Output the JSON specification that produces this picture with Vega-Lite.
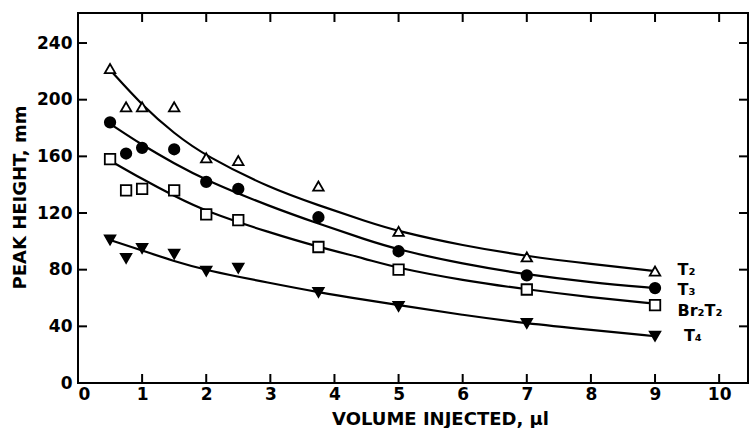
{
  "$schema": "https://vega.github.io/schema/vega-lite/v6.json",
  "autosize": "none",
  "width": 670,
  "height": 370,
  "padding": {"left": 78, "top": 13, "right": 3, "bottom": 45},
  "background": "white",
  "config": {
    "view": {"stroke": "black", "strokeWidth": 2},
    "font": "DejaVu Sans",
    "axis": {"domain": false, "grid": false, "ticks": false, "labelColor": "black", "titleColor": "black", "labelFont": "DejaVu Sans", "titleFont": "DejaVu Sans", "labelFontSize": 17, "labelFontWeight": "bold", "titleFontSize": 18, "titleFontWeight": "bold"}
  },
  "datasets": {
    "pts": [
      {"s": "T2", "x": 0.5, "y": 222}, {"s": "T2", "x": 0.75, "y": 195}, {"s": "T2", "x": 1, "y": 195}, {"s": "T2", "x": 1.5, "y": 195},
      {"s": "T2", "x": 2, "y": 159}, {"s": "T2", "x": 2.5, "y": 157}, {"s": "T2", "x": 3.75, "y": 139}, {"s": "T2", "x": 5, "y": 107},
      {"s": "T2", "x": 7, "y": 89}, {"s": "T2", "x": 9, "y": 79},
      {"s": "T3", "x": 0.5, "y": 184}, {"s": "T3", "x": 0.75, "y": 162}, {"s": "T3", "x": 1, "y": 166}, {"s": "T3", "x": 1.5, "y": 165},
      {"s": "T3", "x": 2, "y": 142}, {"s": "T3", "x": 2.5, "y": 137}, {"s": "T3", "x": 3.75, "y": 117}, {"s": "T3", "x": 5, "y": 93},
      {"s": "T3", "x": 7, "y": 76}, {"s": "T3", "x": 9, "y": 67},
      {"s": "Br2T2", "x": 0.5, "y": 158}, {"s": "Br2T2", "x": 0.75, "y": 136}, {"s": "Br2T2", "x": 1, "y": 137}, {"s": "Br2T2", "x": 1.5, "y": 136},
      {"s": "Br2T2", "x": 2, "y": 119}, {"s": "Br2T2", "x": 2.5, "y": 115}, {"s": "Br2T2", "x": 3.75, "y": 96}, {"s": "Br2T2", "x": 5, "y": 80},
      {"s": "Br2T2", "x": 7, "y": 66}, {"s": "Br2T2", "x": 9, "y": 55},
      {"s": "T4", "x": 0.5, "y": 101}, {"s": "T4", "x": 0.75, "y": 88}, {"s": "T4", "x": 1, "y": 95}, {"s": "T4", "x": 1.5, "y": 91},
      {"s": "T4", "x": 2, "y": 79}, {"s": "T4", "x": 2.5, "y": 81}, {"s": "T4", "x": 3.75, "y": 64}, {"s": "T4", "x": 5, "y": 54},
      {"s": "T4", "x": 7, "y": 42}, {"s": "T4", "x": 9, "y": 33}
    ],
    "fit": [
      {"s": "T2", "x": 0.5, "y": 221}, {"s": "T2", "x": 1, "y": 196}, {"s": "T2", "x": 1.5, "y": 176}, {"s": "T2", "x": 2, "y": 160},
      {"s": "T2", "x": 3, "y": 137.5}, {"s": "T2", "x": 3.75, "y": 125.5}, {"s": "T2", "x": 4.5, "y": 114}, {"s": "T2", "x": 5, "y": 107},
      {"s": "T2", "x": 6, "y": 97}, {"s": "T2", "x": 7, "y": 89.5}, {"s": "T2", "x": 8, "y": 84}, {"s": "T2", "x": 9, "y": 79},
      {"s": "T3", "x": 0.5, "y": 183}, {"s": "T3", "x": 1, "y": 168}, {"s": "T3", "x": 1.5, "y": 155}, {"s": "T3", "x": 2, "y": 143},
      {"s": "T3", "x": 3, "y": 124.5}, {"s": "T3", "x": 3.75, "y": 112.5}, {"s": "T3", "x": 4.5, "y": 101}, {"s": "T3", "x": 5, "y": 94},
      {"s": "T3", "x": 6, "y": 84}, {"s": "T3", "x": 7, "y": 76.5}, {"s": "T3", "x": 8, "y": 71}, {"s": "T3", "x": 9, "y": 67},
      {"s": "Br2T2", "x": 0.5, "y": 157}, {"s": "Br2T2", "x": 1, "y": 144}, {"s": "Br2T2", "x": 1.5, "y": 132}, {"s": "Br2T2", "x": 2, "y": 121},
      {"s": "Br2T2", "x": 3, "y": 106}, {"s": "Br2T2", "x": 3.75, "y": 96}, {"s": "Br2T2", "x": 4.5, "y": 87.5}, {"s": "Br2T2", "x": 5, "y": 81},
      {"s": "Br2T2", "x": 6, "y": 72.5}, {"s": "Br2T2", "x": 7, "y": 66}, {"s": "Br2T2", "x": 8, "y": 60.5}, {"s": "Br2T2", "x": 9, "y": 56},
      {"s": "T4", "x": 0.5, "y": 101}, {"s": "T4", "x": 1, "y": 93.5}, {"s": "T4", "x": 1.5, "y": 86}, {"s": "T4", "x": 2, "y": 79.5},
      {"s": "T4", "x": 3, "y": 70.5}, {"s": "T4", "x": 3.75, "y": 64}, {"s": "T4", "x": 4.5, "y": 58.5}, {"s": "T4", "x": 5, "y": 55},
      {"s": "T4", "x": 6, "y": 48}, {"s": "T4", "x": 7, "y": 42}, {"s": "T4", "x": 8, "y": 37.5}, {"s": "T4", "x": 9, "y": 33}
    ],
    "labels": [
      {"t": "T₂", "x": 9.35, "y": 80},
      {"t": "T₃", "x": 9.35, "y": 66},
      {"t": "Br₂T₂", "x": 9.35, "y": 51},
      {"t": "T₄", "x": 9.45, "y": 33}
    ],
    "xticks": [{"v": 1}, {"v": 2}, {"v": 3}, {"v": 4}, {"v": 5}, {"v": 6}, {"v": 7}, {"v": 8}, {"v": 9}, {"v": 10}],
    "yticks": [{"v": 40}, {"v": 80}, {"v": 120}, {"v": 160}, {"v": 200}, {"v": 240}]
  },
  "layer": [
    {
      "data": {"name": "fit"},
      "mark": {"type": "line", "color": "black", "strokeWidth": 2.2, "interpolate": "basis"},
      "encoding": {
        "x": {"field": "x", "type": "quantitative", "scale": {"domain": [0, 10.45], "nice": false},
          "axis": {"orient": "bottom", "title": "VOLUME INJECTED, μl", "format": "d", "values": [0,1,2,3,4,5,6,7,8,9,10], "labelPadding": 3, "titleX": 362, "titleY": 41, "titleBaseline": "alphabetic", "titleAnchor": null, "titleAlign": "center"}},
        "y": {"field": "y", "type": "quantitative", "scale": {"domain": [0, 261.2], "nice": false},
          "axis": {"orient": "left", "title": "PEAK HEIGHT, mm", "format": "d", "values": [0,40,80,120,160,200,240], "labelPadding": 6, "titleX": -53, "titleY": 184, "titleBaseline": "alphabetic", "titleAngle": -90, "titleAlign": "center"}},
        "detail": {"field": "s", "type": "nominal"}
      }
    },
    {
      "data": {"name": "xticks"},
      "mark": {"type": "tick", "orient": "vertical", "size": 18, "thickness": 2, "color": "black", "opacity": 1, "clip": true},
      "encoding": {
        "x": {"field": "v", "type": "quantitative"},
        "y": {"datum": 0, "type": "quantitative"}
      }
    },
    {
      "data": {"name": "xticks"},
      "mark": {"type": "tick", "orient": "vertical", "size": 18, "thickness": 2, "color": "black", "opacity": 1, "clip": true},
      "encoding": {
        "x": {"field": "v", "type": "quantitative"},
        "y": {"datum": 261.2, "type": "quantitative"}
      }
    },
    {
      "data": {"name": "yticks"},
      "mark": {"type": "tick", "orient": "horizontal", "size": 18, "thickness": 2, "color": "black", "opacity": 1, "clip": true},
      "encoding": {
        "y": {"field": "v", "type": "quantitative"},
        "x": {"datum": 0, "type": "quantitative"}
      }
    },
    {
      "data": {"name": "yticks"},
      "mark": {"type": "tick", "orient": "horizontal", "size": 18, "thickness": 2, "color": "black", "opacity": 1, "clip": true},
      "encoding": {
        "y": {"field": "v", "type": "quantitative"},
        "x": {"datum": 10.45, "type": "quantitative"}
      }
    },
    {
      "data": {"name": "pts"},
      "mark": {"type": "point", "filled": true, "stroke": "black", "strokeWidth": 1.8, "size": 110, "opacity": 1},
      "encoding": {
        "x": {"field": "x", "type": "quantitative"},
        "y": {"field": "y", "type": "quantitative"},
        "shape": {"field": "s", "type": "nominal", "legend": null, "scale": {"domain": ["T2","T3","Br2T2","T4"], "range": ["triangle-up","circle","square","triangle-down"]}},
        "fill": {"field": "s", "type": "nominal", "legend": null, "scale": {"domain": ["T2","T3","Br2T2","T4"], "range": ["white","black","white","black"]}}
      }
    },
    {
      "data": {"name": "labels"},
      "mark": {"type": "text", "align": "left", "baseline": "middle", "fontSize": 16, "fontWeight": "bold", "color": "black", "font": "DejaVu Sans"},
      "encoding": {
        "x": {"field": "x", "type": "quantitative"},
        "y": {"field": "y", "type": "quantitative"},
        "text": {"field": "t"}
      }
    }
  ]
}
